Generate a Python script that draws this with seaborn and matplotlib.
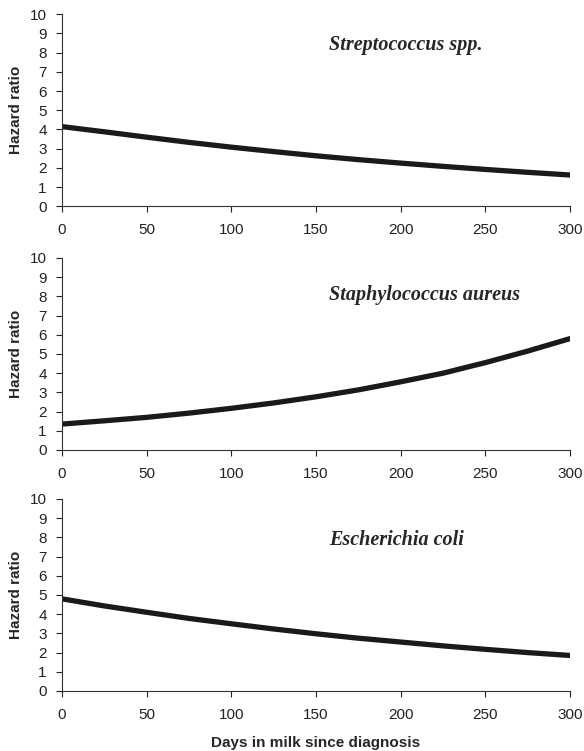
import matplotlib
matplotlib.use("Agg")
import matplotlib.pyplot as plt
import seaborn as sns
import pandas as pd

# Days in milk since diagnosis
days = [0, 25, 50, 75, 100, 125, 150, 175, 200, 225, 250, 275, 300]

# Hazard ratios
strep = [4.15, 3.88, 3.6, 3.33, 3.08, 2.85, 2.63, 2.43, 2.25, 2.08, 1.92, 1.77, 1.63]
staph = [1.35, 1.52, 1.7, 1.92, 2.17, 2.45, 2.77, 3.13, 3.55, 4.0, 4.55, 5.15, 5.8]
ecoli = [4.8, 4.43, 4.1, 3.78, 3.5, 3.23, 2.98, 2.75, 2.55, 2.35, 2.17, 2.0, 1.85]

pathogens = ["Streptococcus spp.", "Staphylococcus aureus", "Escherichia coli"]
label_y = [8.4, 8.07, 7.86]

sns.set_style("ticks")
plt.rcParams['font.family'] = ['Liberation Sans', 'DejaVu Sans']

fig = plt.figure(figsize=(5.84, 7.51), dpi=100)
tops = [0.981, 0.6565, 0.3356]
height = 0.2557

for i, (name, vals) in enumerate(zip(pathogens, [strep, staph, ecoli])):
    ax = fig.add_axes([0.106, tops[i] - height, 0.87, height])
    df = pd.DataFrame({"days": days, "hr": vals})
    sns.lineplot(data=df, x="days", y="hr", ax=ax, color="#1a1a1a", linewidth=3.8)

    ax.set_xlim(0, 300)
    ax.set_ylim(0, 10)
    ax.set_xticks(range(0, 301, 50))
    ax.set_yticks(range(0, 11))
    ax.tick_params(labelsize=11, length=4, width=0.8, colors="#222222")
    ax.tick_params(axis="x", pad=8)
    ax.tick_params(axis="y", pad=7)
    sns.despine(ax=ax)
    for s in ["left", "bottom"]:
        ax.spines[s].set_linewidth(0.8)
        ax.spines[s].set_color("#333333")

    ax.set_ylabel("Hazard ratio", fontsize=11, fontweight="bold", labelpad=5)
    if i == 2:
        ax.set_xlabel("Days in milk since diagnosis", fontsize=11, fontweight="bold", labelpad=10)
    else:
        ax.set_xlabel("")

    ax.text(158, label_y[i], name, family="Liberation Serif", style="italic",
            fontweight="bold", fontsize=14.5, va="center", ha="left")

fig.savefig("out.png", dpi=100)
